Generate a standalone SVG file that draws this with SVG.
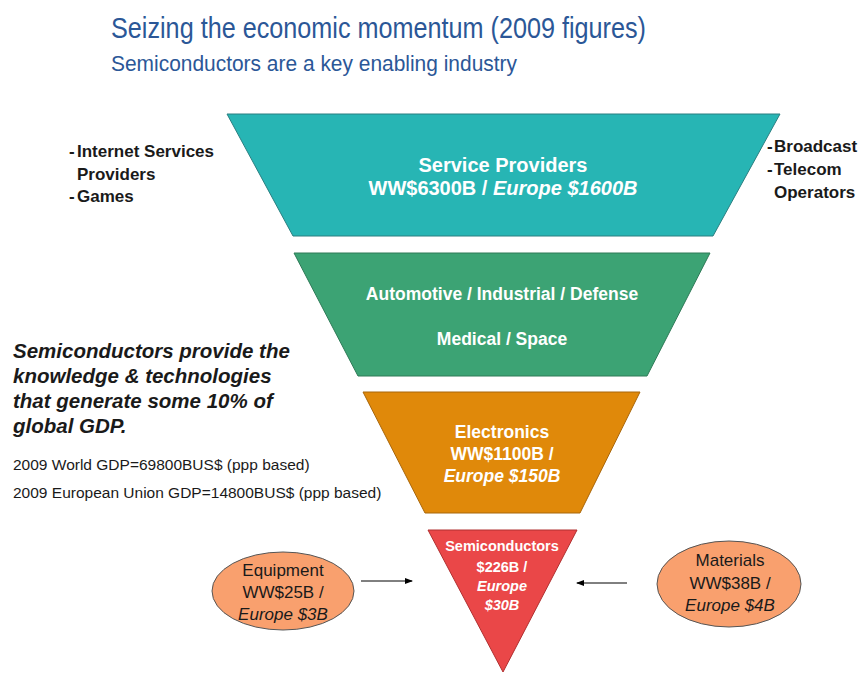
<svg xmlns="http://www.w3.org/2000/svg" width="863" height="673" viewBox="0 0 863 673">
<style>
  text { font-family: "Liberation Sans", Arial, sans-serif; }
  .title { fill: #2B5797; }
  .lbl { font-size: 17px; font-weight: bold; fill: #1a1a1a; }
  .w { fill: #ffffff; font-weight: bold; text-anchor: middle; }
  .ell { fill: #F9A06E; stroke: #555; stroke-width: 1; }
  .et { font-size: 17px; fill: #1a1a1a; text-anchor: middle; }
  .para { font-size: 20.5px; font-weight: bold; font-style: italic; fill: #1a1a1a; }
  .gdp { font-size: 15.5px; fill: #1a1a1a; }
  .conn { stroke: #000; stroke-width: 1; fill: none; marker-end: url(#ah); }
</style>
<defs>
  <marker id="ah" markerWidth="8" markerHeight="6" refX="7" refY="3" orient="auto" markerUnits="userSpaceOnUse">
    <path d="M0,0 L8,3 L0,6 z" fill="#000"/>
  </marker>
</defs>
<rect width="863" height="673" fill="#fff"/>
<g id="header">
  <text class="title" x="111" y="38" font-size="30" textLength="535" lengthAdjust="spacingAndGlyphs">Seizing the economic momentum (2009 figures)</text>
  <text class="title" x="111" y="71" font-size="22" textLength="406" lengthAdjust="spacingAndGlyphs">Semiconductors are a key enabling industry</text>
</g>
<g id="service-providers">
  <polygon points="227,114 780,114 713,236 293,236" fill="#27B5B4" stroke="#2B7F80" stroke-width="1"/>
  <text class="w" x="503" y="172" font-size="20">Service Providers</text>
  <text class="w" x="503" y="195" font-size="20">WW$6300B / <tspan font-style="italic">Europe $1600B</tspan></text>
</g>
<g id="industries">
  <polygon points="294,253 710,253 647,376 358,376" fill="#3CA374" stroke="#2E7A57" stroke-width="1"/>
  <text class="w" x="502" y="300" font-size="17.5">Automotive / Industrial / Defense</text>
  <text class="w" x="502" y="345" font-size="17.5">Medical / Space</text>
</g>
<g id="electronics">
  <polygon points="363,392 640,392 580,513 425,513" fill="#E0890A" stroke="#A8660A" stroke-width="1"/>
  <text class="w" x="502" y="438" font-size="17.5">Electronics</text>
  <text class="w" x="502" y="460" font-size="17.5">WW$1100B /</text>
  <text class="w" x="502" y="482" font-size="17.5" font-style="italic">Europe $150B</text>
</g>
<g id="semiconductors">
  <polygon points="428,530 577,530 503,672" fill="#EA4748" stroke="#B03030" stroke-width="1"/>
  <text class="w" x="502" y="551" font-size="14.5">Semiconductors</text>
  <text class="w" x="502" y="572" font-size="14.5">$226B /</text>
  <text class="w" x="502" y="591" font-size="14.5" font-style="italic">Europe</text>
  <text class="w" x="502" y="610" font-size="14.5" font-style="italic">$30B</text>
</g>
<g id="equipment">
  <ellipse class="ell" cx="283" cy="591" rx="71" ry="39"/>
  <text class="et" x="283" y="576">Equipment</text>
  <text class="et" x="283" y="598">WW$25B /</text>
  <text class="et" x="283" y="620" font-style="italic">Europe $3B</text>
</g>
<g id="materials">
  <ellipse class="ell" cx="729" cy="584" rx="72" ry="43"/>
  <text class="et" x="730" y="566">Materials</text>
  <text class="et" x="730" y="589">WW$38B /</text>
  <text class="et" x="730" y="611" font-style="italic">Europe $4B</text>
</g>
<g id="left-labels">
  <text class="lbl" x="69" y="157">-</text>
  <text class="lbl" x="77" y="157">Internet Services</text>
  <text class="lbl" x="77" y="180">Providers</text>
  <text class="lbl" x="69" y="202">-</text>
  <text class="lbl" x="77" y="202">Games</text>
</g>
<g id="right-labels">
  <text class="lbl" x="767" y="152">-</text>
  <text class="lbl" x="774" y="152">Broadcast</text>
  <text class="lbl" x="767" y="175">-</text>
  <text class="lbl" x="774" y="175">Telecom</text>
  <text class="lbl" x="774" y="198">Operators</text>
</g>
<g id="gdp-note">
  <text class="para" x="13" y="358">Semiconductors provide the</text>
  <text class="para" x="13" y="383">knowledge &amp; technologies</text>
  <text class="para" x="13" y="408">that generate some 10% of</text>
  <text class="para" x="13" y="433">global GDP.</text>
  <text class="gdp" x="13" y="470">2009 World GDP=69800BUS$ (ppp based)</text>
  <text class="gdp" x="13" y="498">2009 European Union GDP=14800BUS$ (ppp based)</text>
</g>
<g id="connectors">
  <line class="conn" x1="361" y1="581" x2="412" y2="581"/>
  <line class="conn" x1="627" y1="583" x2="577" y2="583"/>
</g>
</svg>
